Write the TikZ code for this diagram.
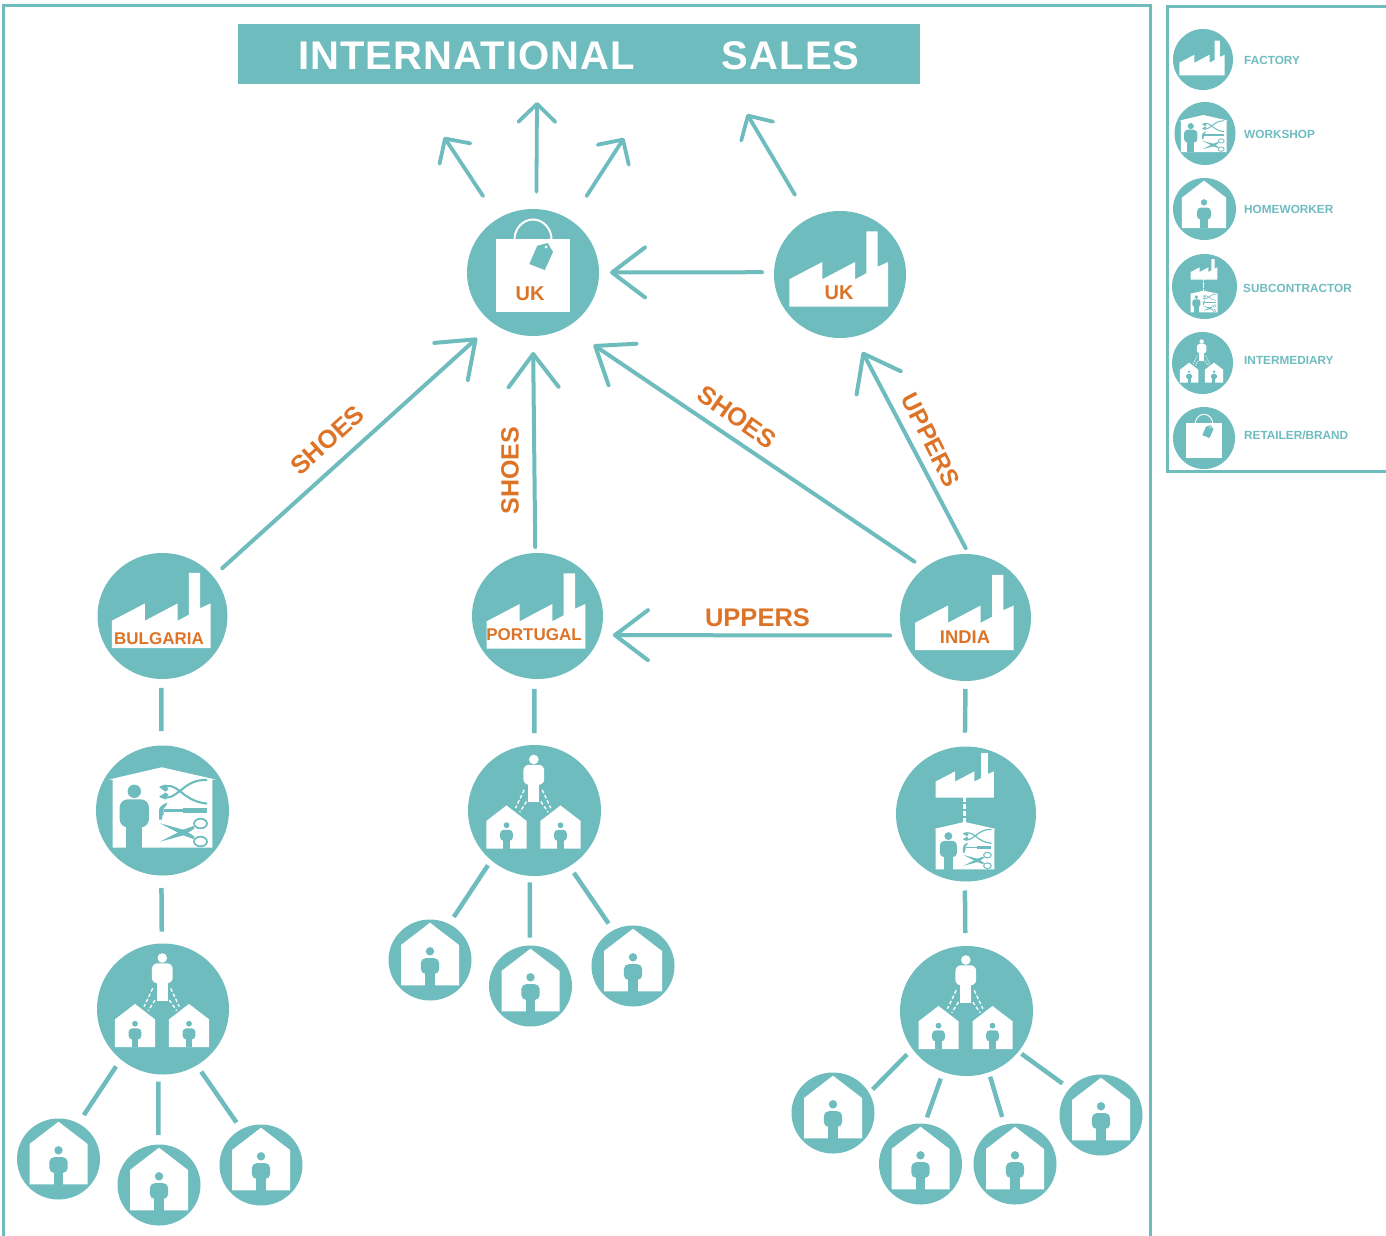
\documentclass[tikz,border=0pt]{standalone}
\usepackage{fontspec}
\setmainfont{Liberation Sans}
\usetikzlibrary{arrows.meta,shapes.geometric}
\definecolor{tealc}{HTML}{6FBCBF}
\definecolor{orgc}{HTML}{DD7326}
\def\ic{1}
\newcommand\fsz[1]{\fontsize{#1}{#1}\selectfont\bfseries}
\tikzset{
  disc/.style={ellipse,fill=tealc,inner sep=0pt,outer sep=0pt},
  big/.style={disc,minimum width=132pt,minimum height=127pt},
  home/.style={disc,minimum width=83pt,minimum height=81pt},
  frameline/.style={draw=tealc,line width=3pt},
  link/.style={draw=tealc,line width=4.5pt},
  arrowbig/.style={draw=tealc,line width=4pt,line cap=round,-{Straight Barb[length=33pt,width=50pt,round]}},
  arrowup/.style={draw=tealc,line width=3.8pt,line cap=round,-{Straight Barb[length=18pt,width=37pt,round]}},
  lab/.style={text=orgc,inner sep=0pt},
  leg/.style={text=tealc,inner sep=0pt,anchor=west,font=\fsz{11.8}},
}
% person: colour, head x, head y, head r, half torso, torso top, torso bottom, half legs, legs bottom
\newcommand\Pers[9]{%
  \fill[#1] (#2,#3) circle (#4pt);
  \pgfmathsetmacro\rc{\ic*#5*0.55}%
  \fill[#1,rounded corners=\rc pt] (#2-#5,#7) -- (#2-#5,#6) -- (#2+#5,#6) -- (#2+#5,#7) -- cycle;
  \fill[#1] (#2-#8,#7-5) rectangle (#2+#8,#9);
}
\newcommand\FacIcon[3]{\begin{scope}[shift={(#1,#2)},scale=#3]
  \fill[white] (-50.7,32.2) -- (-50.7,4.8) -- (-17.7,-12.5) -- (-17.7,4.8) -- (15,-12.5) -- (15,4.8) -- (26.3,-1.2) -- (26.3,-43.2) -- (37.7,-43.2) -- (37.7,-7.8) -- (48,-12.5) -- (48,32.2) -- cycle;
\end{scope}}
\newcommand\HomeIcon[3]{\begin{scope}[shift={(#1,#2)},scale=#3]
  \pgfmathsetmacro\ic{\ic*#3}%
  \fill[white] (0,-37.3) -- (-29,-15) -- (-29,25.3) -- (29,25.3) -- (29,-15) -- cycle;
  \Pers{tealc}{0}{-8.7}{4.2}{9.2}{-1.9}{14}{4.7}{25.6}
\end{scope}}
\newcommand\ShopIcon[3]{\begin{scope}[shift={(#1,#2)},scale=#3]
  \pgfmathsetmacro\ic{\ic*#3}%
  \pgfmathsetmacro\lwa{\ic*2.1}%
  \pgfmathsetmacro\lwb{\ic*1.7}%
  \fill[white] (-53.5,-31) -- (-0.8,-43.2) -- (53.2,-31) -- (49.8,-31) -- (49.8,37.2) -- (-49.8,37.2) -- (-49.8,-31) -- cycle;
  \Pers{tealc}{-28.2}{-19.2}{6.7}{14.6}{-11.2}{16.8}{8}{37.5}
  \draw[tealc,line width=\lwa pt,line cap=round] (-2,-14) .. controls (6,-11) and (10,-14) .. (18,-20) .. controls (26,-27) and (34,-31) .. (44,-30.5);
  \draw[tealc,line width=\lwa pt,line cap=round] (-2,-23) .. controls (6,-26) and (10,-25) .. (18,-19) .. controls (26,-12) and (34,-8) .. (44,-7);
  \fill[tealc] (-3,-24) -- (3,-26) -- (6,-21) -- (3,-19) -- (0,-21) -- cycle;
  \fill[tealc] (-3,-14) -- (3,-11) -- (6,-16) -- (3,-18) -- (0,-16) -- cycle;
  \fill[tealc] (5,-8) .. controls (-1,-6) and (-3.5,-3) .. (-3.5,0) -- (-3.5,9) -- (-0.5,9) -- (0,5) -- (1,4) -- (1,-2) -- (3,-4) -- cycle;
  \fill[tealc] (1,-1.2) rectangle (22,1.6);
  \fill[tealc] (20,-2.2) rectangle (44,2.4);
  \fill[tealc] (-2.5,12.8) -- (22,19.5) -- (32,26) -- (31,28.5) -- (20,24.5) -- cycle;
  \fill[tealc] (-2.5,31.2) -- (22,24.5) -- (32,18) -- (31,15.5) -- (20,19.5) -- cycle;
  \draw[tealc,line width=\lwb pt] (38,13) ellipse (6.5pt and 4.8pt);
  \draw[tealc,line width=\lwb pt] (38,31) ellipse (6.5pt and 4.8pt);
\end{scope}}
\newcommand\MidIcon[3]{\begin{scope}[shift={(#1,#2)},scale=#3]
  \pgfmathsetmacro\ic{\ic*#3}%
  \pgfmathsetmacro\lwa{\ic*1.3}%
  \pgfmathsetmacro\don{\ic*3.6}%
  \pgfmathsetmacro\dof{\ic*2.2}%
  \Pers{white}{-0.7}{-51}{4.8}{10.4}{-45.7}{-25.7}{5.4}{-8.3}
  \draw[white,line width=\lwa pt,dash pattern=on \don pt off \dof pt] (-10.3,-20.7) -- (-19,-2.3);
  \draw[white,line width=\lwa pt,dash pattern=on \don pt off \dof pt] (-8,-9) -- (-14.7,1.7);
  \draw[white,line width=\lwa pt,dash pattern=on \don pt off \dof pt] (7.7,-20.7) -- (16.3,-2.3);
  \draw[white,line width=\lwa pt,dash pattern=on \don pt off \dof pt] (6.3,-9) -- (13.7,1.7);
  \HomeIcon{-28}{20.7}{0.69}
  \HomeIcon{26}{20.7}{0.69}
\end{scope}}
\newcommand\SubIcon[3]{\begin{scope}[shift={(#1,#2)},scale=#3]
  \pgfmathsetmacro\ic{\ic*#3}%
  \pgfmathsetmacro\lwa{\ic*3}%
  \pgfmathsetmacro\don{\ic*5}%
  \pgfmathsetmacro\dof{\ic*2}%
  \FacIcon{-0.4}{-35.3}{0.59}
  \draw[white,line width=\lwa pt,dash pattern=on \don pt off \dof pt] (-1.7,-17.3) -- (-1.7,7.7);
  \ShopIcon{-1}{33.4}{0.59}
\end{scope}}
\newcommand\BagIcon[3]{\begin{scope}[shift={(#1,#2)},scale=#3]
  \pgfmathsetmacro\ic{\ic*#3}%
  \pgfmathsetmacro\lwa{\ic*2}%
  \fill[white] (-37.3,-34) rectangle (37.3,39);
  \draw[white,line width=\lwa pt] (-18.5,-34) .. controls (-18.5,-44.2) and (-10.2,-53.5) .. (0,-53.5) .. controls (10.2,-53.5) and (18.5,-44.2) .. (18.5,-34);
  \fill[tealc] (4.3,-27.3) -- (14.7,-30) -- (20,-21) -- (11.7,-3) -- (-3.7,-9) -- cycle;
  \fill[white] (13,-26) circle (1.5pt);
\end{scope}}
\begin{document}
\begin{tikzpicture}[x=1pt,y=-1pt]
\useasboundingbox (0,0) rectangle (1386,1236);
% frames
\draw[frameline] (3,1240) -- (3,6) -- (1150,6) -- (1150,1240);
\draw[frameline] (1390,7) -- (1167,7) -- (1167,471) -- (1390,471);
% title
\node[fill=tealc,text=white,minimum width=682pt,minimum height=60pt,inner sep=0pt,text height=32pt,text depth=0pt] (title) at (579,54) {\fsz{40}\addfontfeature{LetterSpace=2.7}INTERNATIONAL\hspace{87pt}SALES};
% main nodes
\node[big] (ruk) at (533,272.5) {};
\node[big] (fuk) at (840,274.5) {};
\node[big,minimum width=130pt,minimum height=126pt] (bul) at (162.5,616) {};
\node[big,minimum width=131pt,minimum height=126pt] (por) at (537.5,616) {};
\node[big,minimum width=131pt,minimum height=127pt] (ind) at (965.5,617.5) {};
\node[big,minimum width=133pt,minimum height=130pt] (shop) at (162.5,810.5) {};
\node[big,minimum width=132pt,minimum height=131pt] (midb) at (163,1009) {};
\node[big,minimum width=133pt,minimum height=131pt] (midp) at (534.5,810.5) {};
\node[big,minimum width=140pt,minimum height=135pt] (sub) at (966,814) {};
\node[big,minimum width=133pt,minimum height=130pt] (midi) at (966.5,1011) {};
\node[home] (hp1) at (430,960) {};
\node[home] (hp2) at (530.5,986) {};
\node[home] (hp3) at (633,966) {};
\node[home] (hb1) at (58.5,1159) {};
\node[home] (hb2) at (159,1185) {};
\node[home] (hb3) at (261,1165) {};
\node[home] (hi1) at (833,1113) {};
\node[home] (hi2) at (920.5,1164) {};
\node[home] (hi3) at (1015,1164) {};
\node[home] (hi4) at (1101,1115) {};
% icons
\BagIcon{533}{273}{1}
\FacIcon{840}{274.5}{1}
\FacIcon{162.5}{616}{1}
\FacIcon{537.4}{616.5}{1}
\FacIcon{965.7}{618}{1}
\ShopIcon{162.5}{810.5}{1}
\MidIcon{163}{1009}{1}
\MidIcon{534.5}{810.5}{1}
\SubIcon{966}{814}{1}
\MidIcon{966.5}{1011}{1}
\HomeIcon{430}{960}{1}
\HomeIcon{530.5}{986}{1}
\HomeIcon{633}{966}{1}
\HomeIcon{58.5}{1159}{1}
\HomeIcon{159}{1185}{1}
\HomeIcon{261}{1165}{1}
\HomeIcon{833}{1113}{1}
\HomeIcon{920.5}{1164}{1}
\HomeIcon{1015}{1164}{1}
\HomeIcon{1101}{1115}{1}
% free ends of the outgoing arrows
\coordinate (o1) at (444,137);
\coordinate (o2) at (537,102);
\coordinate (o3) at (624,138);
\coordinate (o4) at (747,114);
% arrows
\draw[arrowbig,shorten <=12pt,shorten >=11pt] (fuk.178.2) -- (ruk.0);
\draw[arrowbig,shorten <=12.4pt,shorten >=22pt] (bul.38.3) -- (ruk.232);
\draw[arrowbig,shorten <=6pt,shorten >=16pt] (por.92.9) -- (ruk.270);
\draw[arrowbig,shorten <=11.7pt,shorten >=32pt] (ind.130.5) -- (ruk.-58.5);
\draw[arrowbig,shorten <=6.8pt,shorten >=17.4pt] (ind.87.5) -- (fuk.-77.4);
\draw[arrowbig,shorten <=12.5pt,shorten >=13pt] (ind.196) -- (por.-17.6);
\draw[arrowup,shorten <=27pt] (ruk.123.3) -- (o1);
\draw[arrowup,shorten <=17.4pt] (ruk.87.1) -- (o2);
\draw[arrowup,shorten <=29pt] (ruk.54.8) -- (o3);
\draw[arrowup,shorten <=27.4pt] (fuk.119.5) -- (o4);
% plain links
\draw[link,shorten <=9pt,shorten >=14.5pt] (bul.-91.2) -- (shop.91);
\draw[link,shorten <=12.5pt,shorten >=12pt] (shop.-91.5) -- (midb.91.8);
\draw[link,shorten <=10pt,shorten >=12pt] (por.-93.2) -- (midp.90.7);
\draw[link,shorten <=8pt,shorten >=14pt] (ind.-90.9) -- (sub.91);
\draw[link,shorten <=9pt,shorten >=13pt] (sub.-91) -- (midi.91.3);
\draw[link,shorten <=6pt,shorten >=8.5pt] (midp.229.1) -- (hp1.62.7);
\draw[link,shorten <=6.4pt,shorten >=7.8pt] (midp.266.4) -- (hp2.91.4);
\draw[link,shorten <=7.9pt,shorten >=8.3pt] (midp.-58.7) -- (hp3.119.6);
\draw[link,shorten <=8.5pt,shorten >=10pt] (midb.230.5) -- (hb1.61.4);
\draw[link,shorten <=7.2pt,shorten >=9.5pt] (midb.266) -- (hb2.91.7);
\draw[link,shorten <=7.8pt,shorten >=8.4pt] (midb.-59.6) -- (hb3.119.2);
\draw[link,shorten <=7.8pt,shorten >=5pt] (midi.215.6) -- (hi1.29.9);
\draw[link,shorten <=7.2pt,shorten >=6.7pt] (midi.249.8) -- (hi2.84.5);
\draw[link,shorten <=4.7pt,shorten >=8.2pt] (midi.-70.8) -- (hi3.105.5);
\draw[link,shorten <=3.8pt,shorten >=8.7pt] (midi.-38) -- (hi4.140);
% place labels
\node[lab,font=\fsz{20}] (tuk1) at (530,294) {UK};
\node[lab,font=\fsz{20}] (tuk2) at (839,293) {UK};
\node[lab,font=\fsz{17}] (tbul) at (159,638.5) {BULGARIA};
\node[lab,font=\fsz{17}] (tpor) at (534,634.5) {PORTUGAL};
\node[lab,font=\fsz{18.4}] (tind) at (965,637) {INDIA};
% arrow labels
\node[lab,font=\fsz{25.5},rotate=42] (ts1) at (327.5,440) {SHOES};
\node[lab,font=\fsz{25},rotate=90] (ts2) at (510,470.5) {SHOES};
\node[lab,font=\fsz{25.5},rotate=-35] (ts3) at (737,417) {SHOES};
\node[lab,font=\fsz{24.5},rotate=-63] (tu1) at (931,440) {UPPERS};
\node[lab,font=\fsz{25.5}] (tu2) at (757.5,618) {UPPERS};
% legend
\node[disc,minimum width=60pt,minimum height=61pt] (lf) at (1203,59.5) {};
\node[disc,minimum width=61pt,minimum height=63pt] (lw) at (1205,133.5) {};
\node[disc,minimum width=63pt,minimum height=62pt] (lh) at (1204.5,209) {};
\node[disc,minimum width=65pt,minimum height=65pt] (ls) at (1204.5,286.5) {};
\node[disc,minimum width=61pt,minimum height=62pt] (li) at (1202.5,363) {};
\node[disc,minimum width=62pt,minimum height=62pt] (lr) at (1204,438) {};
\FacIcon{1202.6}{60.5}{0.46}
\ShopIcon{1203.7}{134.9}{0.46}
\HomeIcon{1204}{209}{0.76}
\SubIcon{1204.5}{287}{0.46}
\MidIcon{1202}{365}{0.46}
\BagIcon{1204}{439.4}{0.47}
\node[leg] (tf) at (1244,60.2) {FACTORY};
\node[leg] (tw) at (1244,134.2) {WORKSHOP};
\node[leg] (th) at (1244,209.7) {HOMEWORKER};
\node[leg] (ts) at (1243,288.7) {SUBCONTRACTOR};
\node[leg] (ti) at (1244,360.7) {INTERMEDIARY};
\node[leg] (tr) at (1244,435.5) {RETAILER/BRAND};
\end{tikzpicture}
\end{document}
